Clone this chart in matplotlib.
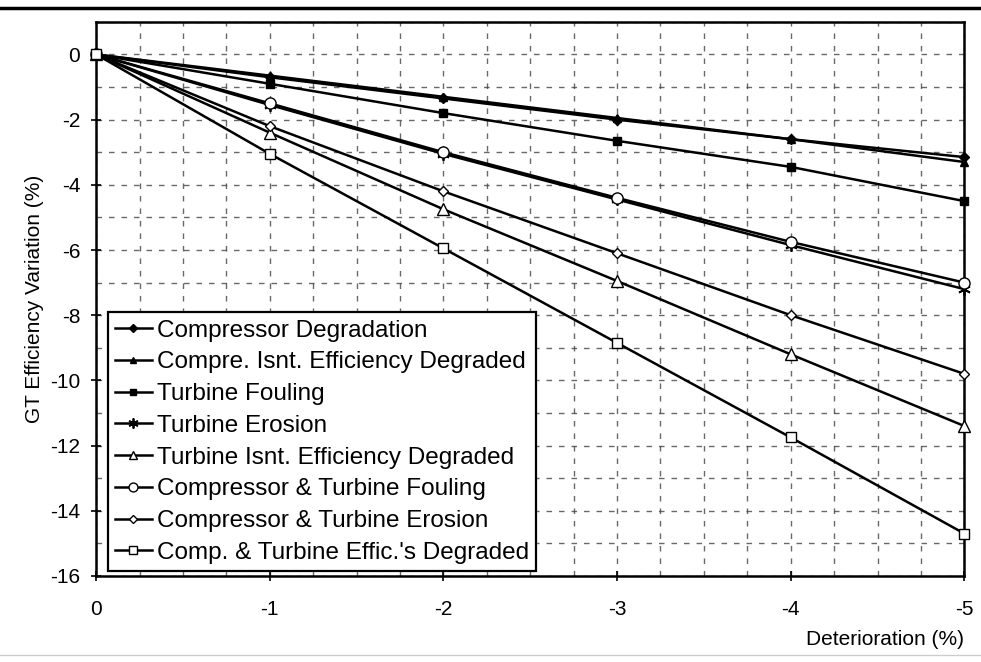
import numpy as np
from matplotlib import pyplot as plt
from matplotlib.lines import Line2D

plt.rcParams['font.family'] = ['Liberation Sans', 'DejaVu Sans']
plt.rcParams['axes.unicode_minus'] = False

# data
deterioration = [0, -1, -2, -3, -4, -5]
comp_degradation = [0, -0.70, -1.35, -2.00, -2.60, -3.15]
comp_isnt_eff = [0, -0.65, -1.30, -1.95, -2.60, -3.30]
turb_fouling = [0, -0.90, -1.80, -2.65, -3.45, -4.50]
turb_erosion = [0, -1.55, -3.05, -4.45, -5.85, -7.20]
turb_isnt_eff = [0, -2.40, -4.75, -6.95, -9.20, -11.40]
comp_turb_fouling = [0, -1.50, -3.00, -4.40, -5.75, -7.00]
comp_turb_erosion = [0, -2.20, -4.20, -6.10, -8.00, -9.80]
comp_turb_eff = [0, -3.05, -5.95, -8.85, -11.75, -14.70]

series = [
    ("Compressor Degradation", comp_degradation, dict(marker='D', ms=5, mfc='black')),
    ("Compre. Isnt. Efficiency Degraded", comp_isnt_eff, dict(marker='^', ms=6, mfc='black')),
    ("Turbine Fouling", turb_fouling, dict(marker='s', ms=6, mfc='black')),
    ("Turbine Erosion", turb_erosion, dict(marker=(6, 2, 0), ms=9, mew=1.3)),
    ("Turbine Isnt. Efficiency Degraded", turb_isnt_eff, dict(marker='^', ms=8, mfc='white')),
    ("Compressor & Turbine Fouling", comp_turb_fouling, dict(marker='o', ms=8, mfc='white')),
    ("Compressor & Turbine Erosion", comp_turb_erosion, dict(marker='D', ms=5, mfc='white')),
    ("Comp. & Turbine Effic.'s Degraded", comp_turb_eff, dict(marker='s', ms=7, mfc='white')),
]

fig = plt.figure(figsize=(9.81, 6.62), dpi=100)
ax = fig.add_axes([0.098, 0.13, 0.885, 0.837])

for label, vals, st in series:
    ax.plot(deterioration, vals, color='black', lw=1.8, mec='black', label=label,
            clip_on=False, zorder=3, **st)

ax.set_xlim(0, -5)
ax.set_ylim(-16, 1)
ax.set_xticks([0, -1, -2, -3, -4, -5])
ax.set_xticklabels(['0', '-1', '-2', '-3', '-4', '-5'])
ax.set_xticks(np.arange(0, -5.01, -0.25), minor=True)
ax.set_yticks(np.arange(0, -16.1, -2))
ax.set_yticks(np.arange(1, -16.1, -1), minor=True)
ax.grid(True, which='both', color='#444444', linestyle=(0, (4, 5)), lw=1.0, alpha=0.8)
ax.tick_params(axis='both', which='major', labelsize=15, direction='inout', length=7, width=1.2)
ax.tick_params(axis='x', which='major', pad=14)
ax.tick_params(axis='y', which='major', pad=8)
ax.tick_params(axis='both', which='minor', length=0)
for sp in ax.spines.values():
    sp.set_linewidth(1.8)

ax.set_ylabel('GT Efficiency Variation (%)', fontsize=15, labelpad=4)
ax.set_xlabel('Deterioration (%)', fontsize=15, loc='right', labelpad=8)

leg = ax.legend(loc='lower left', bbox_to_anchor=(0.008, 0.0), fontsize=17.5, frameon=True,
                fancybox=False, edgecolor='black', framealpha=1, handlelength=1.5,
                handletextpad=0.2, labelspacing=0.40, borderpad=0.3, borderaxespad=0.2,
                markerscale=0.8)
leg.get_frame().set_linewidth(1.6)
leg.set_zorder(5)

# page rules
fig.add_artist(Line2D([0, 1], [0.988, 0.988], color='black', lw=2.5))
fig.add_artist(Line2D([0, 1], [0.01, 0.01], color='#cccccc', lw=1.0))

fig.savefig('out.png', dpi=100)
